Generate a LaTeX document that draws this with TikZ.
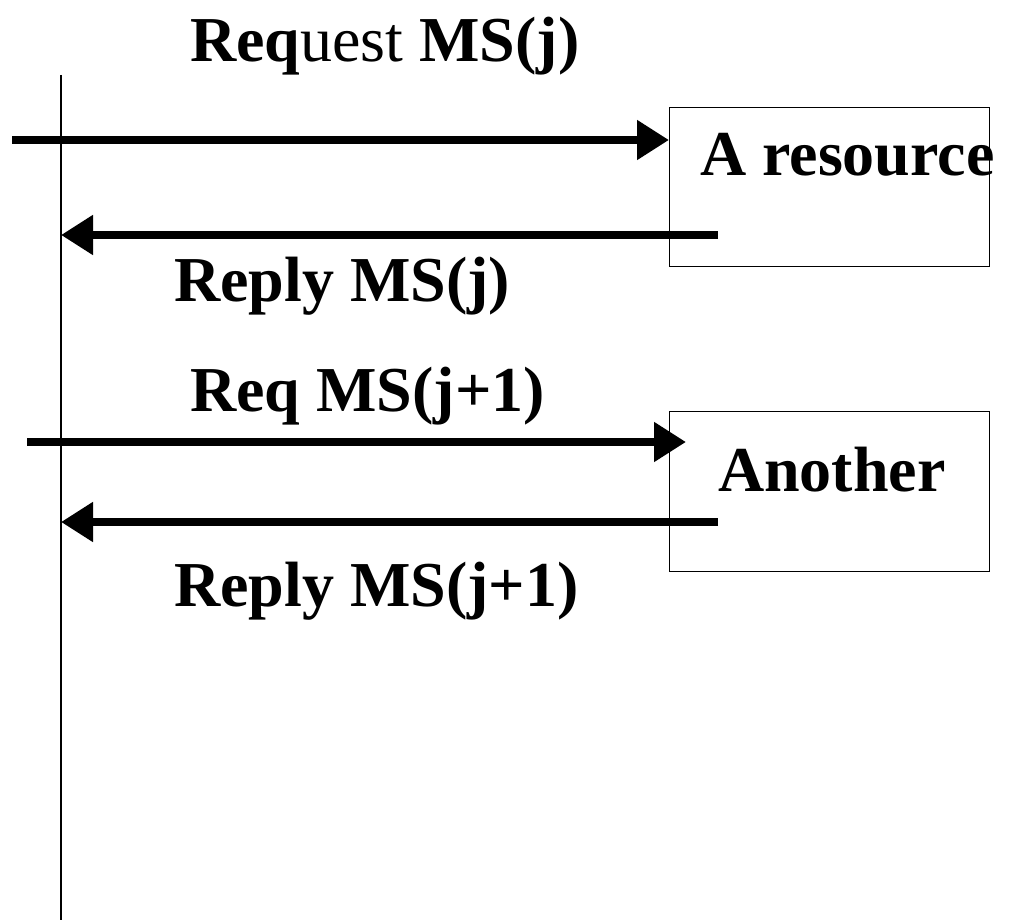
\documentclass[tikz,border=0pt]{standalone}
\usepackage{fontspec}
\setmainfont{Liberation Serif}
\usetikzlibrary{arrows.meta}
\begin{document}
\begin{tikzpicture}[x=1pt,y=-1pt,
  msg/.style={line width=8pt,-{Triangle[length=32pt,width=38pt]}},
  box/.style={draw,line width=1pt},
  lbl/.style={font=\fontsize{64}{70}\selectfont\bfseries,inner sep=0pt,anchor=base west}]
\useasboundingbox (0,0) rectangle (1013,920);
\draw[line width=1.5pt] (61,75) -- (61,920);
\node[box,minimum width=320pt,minimum height=159pt,anchor=north west,inner sep=0pt] (r1) at (669,107) {};
\node[box,minimum width=320pt,minimum height=160pt,anchor=north west,inner sep=0pt] (r2) at (669,411) {};
\node[lbl] (t1) at (190,62) {Req\mdseries uest \bfseries MS(j)};
\node[lbl] (a1) at (700,176) {A resource};
\node[lbl] (t2) at (174,302) {Reply MS(j)};
\node[lbl] (t3) at (190,411) {Req MS(j+1)};
\node[lbl] (a2) at (718,491) {Another};
\node[lbl] (t4) at (174,606) {Reply MS(j+1)};
\coordinate (s1) at (12,140);
\coordinate (e1) at (669,140);
\coordinate (s2) at (718,235);
\coordinate (e2) at (61,235);
\coordinate (s3) at (27,442);
\coordinate (e3) at (686,442);
\coordinate (s4) at (718,522);
\coordinate (e4) at (61,522);
\draw[msg] (s1) -- (e1);
\draw[msg] (s2) -- (e2);
\draw[msg] (s3) -- (e3);
\draw[msg] (s4) -- (e4);
\end{tikzpicture}
\end{document}
